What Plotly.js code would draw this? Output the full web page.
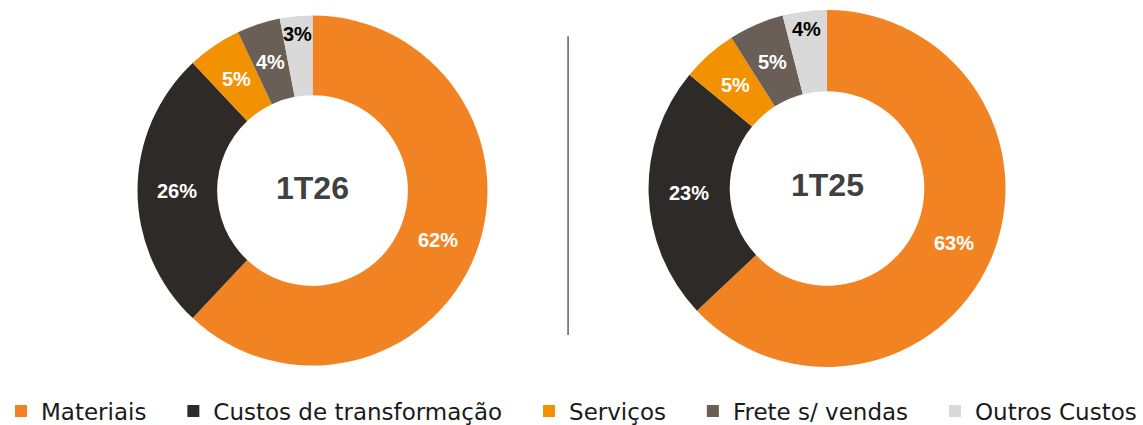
<!DOCTYPE html>
<html>
<head>
<meta charset="utf-8">
<script src="https://cdn.plot.ly/plotly-3.0.1.min.js"></script>
<style>html,body{margin:0;padding:0;background:#fff;}#chart{width:1143px;height:425px;}</style>
</head>
<body>
<div id="chart"></div>
<script>
const categories = ["Materiais", "Custos de transformação", "Serviços", "Frete s/ vendas", "Outros Custos"];
const values1T26 = [62, 26, 5, 4, 3];
const values1T25 = [63, 23, 5, 5, 4];
const periodLabels = ["1T26", "1T25"];
const sliceColors = ["#F28323", "#2E2A27", "#F39200", "#6A5F56", "#D9D9D9"];
const labelColors = ["#FFFFFF", "#FFFFFF", "#FFFFFF", "#FFFFFF", "#000000"];

const W = 1143, H = 425;
const HOLE = 0.545;
const domainLeft = {x: [0.1203, 0.4265], y: [0.14, 0.9635]};
const domainRight = {x: [0.5674, 0.8797], y: [0.1365, 0.9765]};
const labelFont = {family: "Liberation Sans, Arial, sans-serif", size: 20, weight: "bold"};
const centerFont = {family: "Liberation Sans, Arial, sans-serif", size: 32, weight: "bold", color: "#404040"};

// legend labels get a little trailing spacing so the entries spread like the original
const legendLabels = categories.map((c, i) => i < categories.length - 1 ? c + "\u00a0\u00a0\u00a0" : c);

function pieTrace(vals, domain) {
  return {
    type: "pie",
    labels: legendLabels,
    values: vals,
    hole: HOLE,
    sort: false,
    direction: "clockwise",
    rotation: 0,
    domain: domain,
    marker: {colors: sliceColors, line: {width: 0}},
    textinfo: "none",
    hoverinfo: "label+percent",
    showlegend: true
  };
}

function geom(domain) {
  const x0 = domain.x[0] * W, x1 = domain.x[1] * W;
  const y0 = (1 - domain.y[1]) * H, y1 = (1 - domain.y[0]) * H;
  return {cx: (x0 + x1) / 2, cy: (y0 + y1) / 2, R: Math.min(x1 - x0, y1 - y0) / 2};
}

// percentage labels placed at each slice's mid-angle, computed from the values
function sliceLabels(vals, domain, title) {
  const g = geom(domain);
  const total = vals.reduce((a, b) => a + b, 0);
  let cum = 0;
  const anns = vals.map((v, i) => {
    const a = (cum + v / 2) / total * 2 * Math.PI;
    cum += v;
    const rr = (i === vals.length - 1) ? 0.9 : (1 + HOLE) / 2;
    const px = g.cx + rr * g.R * Math.sin(a);
    const py = g.cy - rr * g.R * Math.cos(a);
    return {
      xref: "paper", yref: "paper", x: px / W, y: 1 - py / H,
      xanchor: "center", yanchor: "middle", showarrow: false,
      text: v + "%",
      font: Object.assign({}, labelFont, {color: labelColors[i]})
    };
  });
  anns.push({
    xref: "paper", yref: "paper", x: g.cx / W, y: 1 - (g.cy - 3) / H,
    xanchor: "center", yanchor: "middle", showarrow: false,
    text: title, font: centerFont
  });
  return anns;
}

const data = [
  pieTrace(values1T26, domainLeft),
  pieTrace(values1T25, domainRight)
];

const layout = {
  width: W,
  height: H,
  margin: {l: 0, r: 0, t: 0, b: 0, autoexpand: false},
  paper_bgcolor: "#FFFFFF",
  plot_bgcolor: "#FFFFFF",
  showlegend: true,
  legend: {
    orientation: "h",
    x: 0.5, xanchor: "center",
    y: 0.033, yanchor: "middle",
    font: {family: "DejaVu Sans, sans-serif", size: 23, color: "#1A1A1A"},
    traceorder: "normal"
  },
  annotations: sliceLabels(values1T26, domainLeft, periodLabels[0]).concat(sliceLabels(values1T25, domainRight, periodLabels[1])),
  shapes: [{
    type: "line", xref: "paper", yref: "paper",
    x0: 0.497, x1: 0.497, y0: 0.212, y1: 0.915,
    line: {color: "#6B5E55", width: 1.5}
  }]
};

Plotly.newPlot("chart", data, layout, {displayModeBar: false, staticPlot: true});
</script>
</body>
</html>
